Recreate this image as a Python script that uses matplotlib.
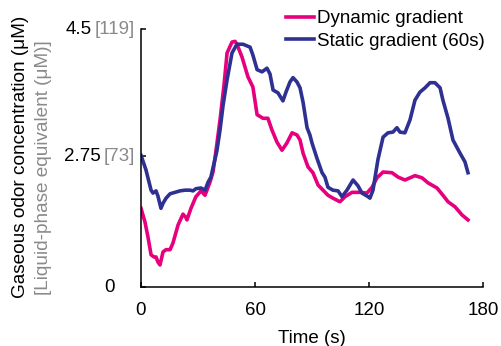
import matplotlib
matplotlib.use("Agg")
from matplotlib import pyplot as plt

plt.rcParams['font.family'] = ['Liberation Sans', 'DejaVu Sans']

# Dynamic gradient (magenta) - time (s), gaseous concentration (uM)
dyn_t = [0, 2.1, 3.7, 5.3, 6.8, 7.9, 8.9, 10, 11.6, 13.2, 14.2, 15.3, 16.8, 19.5, 22.1,
         23.7, 24.2, 26.3, 28.9, 31.6, 33.7, 36.3, 37.9, 39.5, 41.6, 43.7, 45.3, 47.9,
         49.5, 50.5, 53.2, 56.3, 58.9, 61.1, 64.2, 66.8, 68.9, 71.6, 74.2, 76.8, 79.5,
         82.1, 83.7, 85.3, 87.9, 90.5, 93.2, 95.8, 98.4, 101, 104.7, 107.4, 111.1, 115.3,
         118.9, 121.6, 124.2, 127.4, 132.1, 135.3, 138.9, 141.6, 144.2, 147.9, 151.1,
         155.8, 158.9, 161.6, 165.3, 168.9, 172.1]
dyn_c = [2.03, 1.84, 1.63, 1.39, 1.36, 1.36, 1.29, 1.25, 1.43, 1.46, 1.46, 1.46, 1.55, 1.80,
         1.95, 1.90, 1.87, 2.03, 2.19, 2.27, 2.21, 2.39, 2.53, 2.83, 3.25, 3.73, 4.17, 4.32,
         4.33, 4.29, 4.11, 3.84, 3.70, 3.32, 3.27, 3.27, 3.11, 2.94, 2.83, 2.93, 3.07, 3.04,
         2.97, 2.79, 2.60, 2.52, 2.35, 2.28, 2.21, 2.17, 2.12, 2.19, 2.25, 2.25, 2.24, 2.32,
         2.45, 2.53, 2.52, 2.46, 2.42, 2.45, 2.48, 2.45, 2.38, 2.31, 2.21, 2.12, 2.05, 1.94,
         1.87]

# Static gradient (60s) - navy
sta_t = [0, 2.6, 5.3, 6.3, 7.9, 8.9, 10.5, 11.6, 13.2, 15.3, 17.9, 20.5, 23.2, 25.8, 27.4,
         28.9, 31.6, 33.7, 35.3, 36.8, 37.9, 38.9, 40, 41.6, 43.2, 45.3, 47.9, 50.5, 53.7,
         57.4, 58.9, 61.1, 63.7, 66.3, 67.9, 69.5, 72.1, 74.7, 76.3, 78.4, 80, 82.1, 83.7,
         85.3, 87.4, 88.9, 90, 92.6, 95.3, 96.8, 98.4, 101, 103.7, 105.8, 108.4, 111.6,
         114.2, 116.3, 119.5, 120.5, 122.1, 124.7, 127.4, 130, 132.6, 134.7, 136.3, 138.9,
         141.6, 144.2, 146.8, 149.5, 152.1, 154.7, 157.4, 158.9, 161.6, 164.2, 167.9,
         170.5, 172.1]
sta_c = [2.76, 2.56, 2.28, 2.24, 2.27, 2.20, 2.03, 2.10, 2.17, 2.23, 2.25, 2.27, 2.28, 2.28,
         2.27, 2.30, 2.31, 2.28, 2.39, 2.46, 2.59, 2.70, 2.83, 3.11, 3.45, 3.80, 4.17, 4.29,
         4.29, 4.25, 4.14, 3.94, 3.91, 3.96, 3.88, 3.66, 3.62, 3.51, 3.63, 3.77, 3.83, 3.77,
         3.69, 3.49, 3.14, 3.04, 2.93, 2.72, 2.52, 2.46, 2.32, 2.28, 2.27, 2.19, 2.28, 2.42,
         2.34, 2.24, 2.19, 2.17, 2.28, 2.70, 3.01, 3.07, 3.08, 3.14, 3.08, 3.07, 3.25, 3.52,
         3.63, 3.69, 3.76, 3.76, 3.69, 3.52, 3.27, 2.97, 2.79, 2.67, 2.52]

x_ticks = [0, 60, 120, 180]
y_ticks = [0.946, 2.75, 4.5]          # bottom of axis is labelled 0
y_black = ['0', '2.75', '4.5']
y_gray = ['', '[73]', '[119]']

PINK = '#e6007e'
NAVY = '#2e3192'
GRAY = '#8a8a8a'

fig = plt.figure(figsize=(5.01, 3.46), dpi=100)
ax = fig.add_axes([141 / 501, 59 / 346, 342 / 501, 258 / 346])

ax.plot(dyn_t, dyn_c, color=PINK, lw=2.6, label='Dynamic gradient')
ax.plot(sta_t, sta_c, color=NAVY, lw=2.6, label='Static gradient (60s)')

ax.set_xlim(0, 180)
ax.set_ylim(y_ticks[0], 4.5)
ax.spines['top'].set_visible(False)
ax.spines['right'].set_visible(False)
for s in ('left', 'bottom'):
    ax.spines[s].set_linewidth(1.1)

ax.set_xticks(x_ticks)
ax.set_xticklabels([str(v) for v in x_ticks])
ax.set_yticks(y_ticks)
ax.tick_params(direction='in', length=3.6, width=1.1, labelsize=13.5, colors='black')
ax.tick_params(axis='x', pad=10.5)
ax.tick_params(axis='y', labelleft=False)

# two-coloured y tick labels
for yv, blk, gr in zip(y_ticks, y_black, y_gray):
    if gr:
        g = ax.annotate(gr, xy=(0, yv), xycoords=('axes fraction', 'data'),
                        xytext=(-6, 0), textcoords='offset pixels',
                        ha='right', va='center', fontsize=13.5, color=GRAY)
        ax.annotate(blk, xy=(0, 0.5), xycoords=g, xytext=(-3, 0),
                    textcoords='offset pixels', ha='right', va='center',
                    fontsize=13.5, color='black')
    else:
        ax.annotate(blk, xy=(0, yv), xycoords=('axes fraction', 'data'),
                    xytext=(-26, 0), textcoords='offset pixels',
                    ha='right', va='center', fontsize=13.5, color='black')

ax.set_xlabel('Time (s)', fontsize=13.5, labelpad=8)

fig.text(21 / 501, 48 / 346, 'Gaseous odor concentration (\u03bcM)', rotation=90,
         ha='center', va='bottom', fontsize=13.7, color='black')
fig.text(44 / 501, 51 / 346, '[Liquid-phase equivalent (\u03bcM)]', rotation=90,
         ha='center', va='bottom', fontsize=13.7, color=GRAY)

ax.legend(loc='upper left', bbox_to_anchor=(286 / 501, 1 - 10 / 346),
          bbox_transform=fig.transFigure, frameon=False, fontsize=13.5,
          handlelength=1.5, handletextpad=0.15, labelspacing=0.3,
          borderpad=0, borderaxespad=0)

fig.savefig('out.png', dpi=100)
